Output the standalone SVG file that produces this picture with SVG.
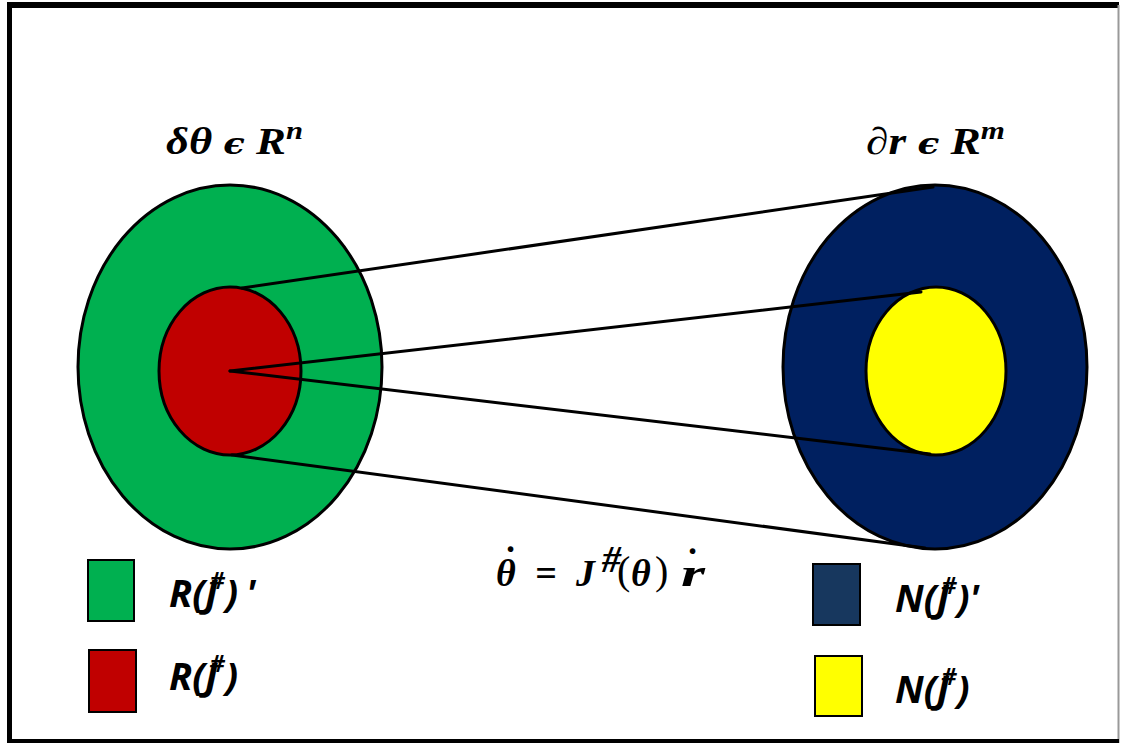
<svg xmlns="http://www.w3.org/2000/svg" width="1121" height="744" viewBox="0 0 1121 744">
<style>
.e{stroke:#000;stroke-width:3}
.c{stroke:#000;stroke-width:3;fill:none;stroke-linecap:round}
.lg{stroke:#000;stroke-width:2}
.hd{font-family:"Liberation Serif","DejaVu Serif",serif;font-weight:bold;font-style:italic;font-size:38px;fill:#000}
.lt{font-family:"Open Sans","Liberation Sans",sans-serif;font-weight:bold;font-style:italic;font-size:38px;fill:#000}
.eq{font-family:"Liberation Serif","DejaVu Serif",serif;font-weight:bold;font-style:italic;font-size:38px;fill:#000}
.pn{font-family:"Liberation Serif","DejaVu Serif",serif;font-size:40px;fill:#000}
</style>
<rect x="0" y="0" width="1121" height="744" fill="#fff"/>
<g id="frame">
<line x1="7" y1="5" x2="1119" y2="5" stroke="#000" stroke-width="6"/>
<line x1="9.5" y1="2" x2="9.5" y2="743" stroke="#000" stroke-width="5"/>
<line x1="1118.5" y1="5" x2="1118.5" y2="743" stroke="#999" stroke-width="2"/>
<line x1="7" y1="741" x2="1119" y2="741" stroke="#000" stroke-width="4"/>
</g>
<g id="domain">
<ellipse class="e" cx="230" cy="367" rx="152" ry="182" fill="#00B050"/>
<ellipse class="e" cx="230" cy="371" rx="71" ry="84" fill="#C00000"/>
<text class="hd" x="166" y="154" textLength="137" lengthAdjust="spacingAndGlyphs">δθ <tspan font-family="DejaVu Serif" font-size="30">ϵ</tspan> R<tspan dy="-15" font-size="26">n</tspan></text>
</g>
<g id="codomain">
<ellipse class="e" cx="935" cy="367" rx="152" ry="182" fill="#002060"/>
<ellipse class="e" cx="936" cy="371" rx="70" ry="84" fill="#FFFF00"/>
<text class="hd" x="866" y="154" textLength="139" lengthAdjust="spacingAndGlyphs">∂r <tspan font-family="DejaVu Serif" font-size="30">ϵ</tspan> R<tspan dy="-15" font-size="26">m</tspan></text>
</g>
<g id="connectors">
<line class="c" x1="242" y1="288" x2="933" y2="187"/>
<line class="c" x1="230" y1="371" x2="921" y2="292"/>
<line class="c" x1="230" y1="371" x2="930" y2="454"/>
<line class="c" x1="232" y1="455" x2="925" y2="548"/>
</g>
<g id="equation">
<text class="eq" x="496" y="586">θ</text>
<text class="eq" x="502" y="573" font-size="28">˙</text>
<text class="eq" x="535" y="586" font-size="42" font-style="normal">=</text>
<text class="eq" x="576" y="586" font-size="42">J</text>
<text class="eq" x="602" y="572" font-size="26">#</text>
<text class="pn" x="617" y="584">(</text>
<text class="eq" x="631" y="586">θ</text>
<text class="pn" x="655" y="584">)</text>
<text class="eq" x="681" y="586" font-size="42" textLength="24" lengthAdjust="spacingAndGlyphs">r</text>
<text class="eq" x="684" y="575" font-size="28">˙</text>
</g>
<g id="legend-range-complement">
<rect class="lg" x="88" y="560" width="46" height="61" fill="#00B050"/>
<text class="lt" x="169" y="607">R(J<tspan dx="-8" dy="-18" font-size="24">#</tspan><tspan dy="18">)</tspan><tspan dx="8">'</tspan></text>
</g>
<g id="legend-range">
<rect class="lg" x="89" y="650" width="47" height="62" fill="#C00000"/>
<text class="lt" x="169" y="690">R(J<tspan dx="-8" dy="-18" font-size="24">#</tspan><tspan dy="18">)</tspan></text>
</g>
<g id="legend-null-complement">
<rect class="lg" x="813" y="564" width="47" height="61" fill="#17375E"/>
<text class="lt" x="895" y="612">N(J<tspan dx="-8" dy="-18" font-size="24">#</tspan><tspan dy="18">)'</tspan></text>
</g>
<g id="legend-null">
<rect class="lg" x="815" y="656" width="47" height="60" fill="#FFFF00"/>
<text class="lt" x="895" y="703">N(J<tspan dx="-8" dy="-18" font-size="24">#</tspan><tspan dy="18">)</tspan></text>
</g>
</svg>
